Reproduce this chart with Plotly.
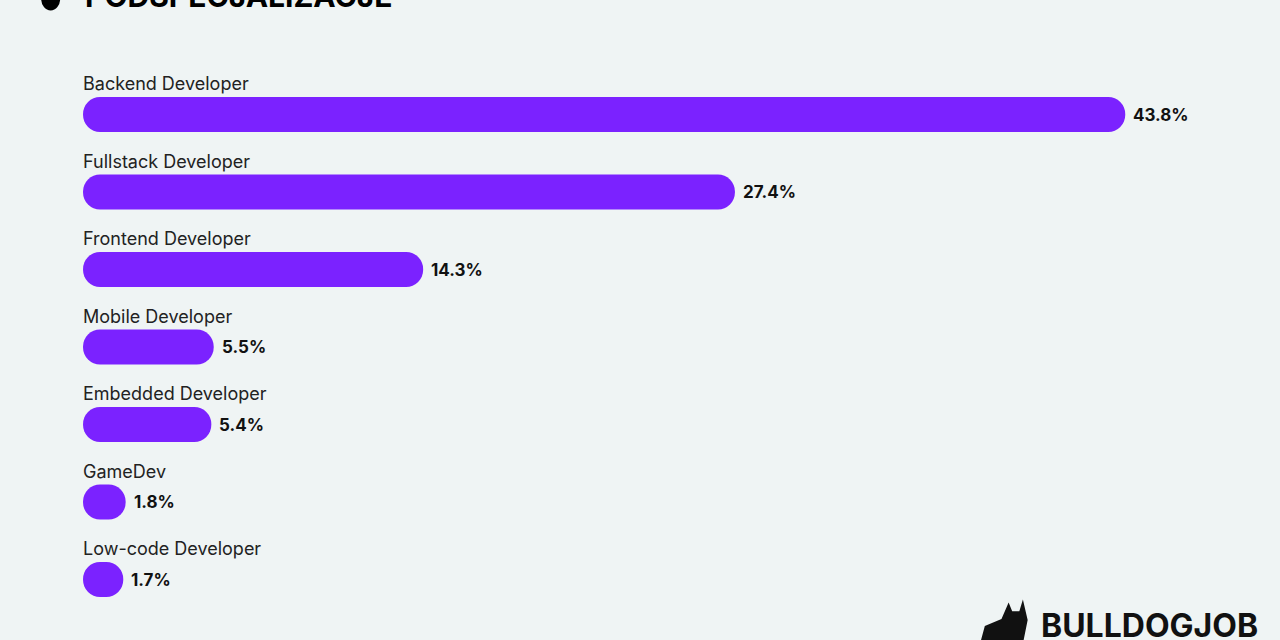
import plotly.graph_objects as go

categories = ["Backend Developer", "Fullstack Developer", "Frontend Developer",
              "Mobile Developer", "Embedded Developer", "GameDev", "Low-code Developer"]
values = [43.8, 27.4, 14.3, 5.5, 5.4, 1.8, 1.7]
value_labels = ["43.8%", "27.4%", "14.3%", "5.5%", "5.4%", "1.8%", "1.7%"]

ypos = list(range(len(categories)))
purple = "#7b22ff"
bg = "#eff4f4"
start = 0.01  # non-zero base so both ends get rounded

fig = go.Figure()
fig.add_trace(go.Bar(
    x=[v - start for v in values], y=ypos, base=start, orientation="h", width=0.45,
    marker=dict(color=purple, cornerradius="50%", line_width=0), hoverinfo="skip",
))

for i, (c, v, lab) in enumerate(zip(categories, values, value_labels)):
    fig.add_annotation(x=0, y=i - 0.4, text=c, showarrow=False, xanchor="left", xshift=-2,
                       yanchor="middle", font=dict(size=18, color="#222", family="Inter"))
    fig.add_annotation(x=v, y=i, text="<b>" + lab + "</b>", showarrow=False, xanchor="left",
                       xshift=6, yanchor="middle", font=dict(size=17, color="#111", family="Inter"))

# title (cut at top like the reference) and logo
fig.add_annotation(xref="paper", yref="paper", x=0.02, y=1.035, xanchor="left", yanchor="bottom",
                   text="<b>PODSPECJALIZACJE</b>", showarrow=False,
                   font=dict(size=30, color="#000", family="Inter"))
fig.add_shape(type="circle", xref="paper", yref="paper", x0=-0.015, x1=0.001,
              y0=1.045, y1=1.085, fillcolor="#000", line_width=0)
fig.add_annotation(xref="paper", yref="paper", x=1.009, y=-0.035, xanchor="right", yanchor="bottom",
                   text="<b>BULLDOGJOB</b>", showarrow=False,
                   font=dict(size=32, color="#111", family="Inter"))
fig.add_shape(type="path", xref="paper", yref="paper",
              path="M 0.774,-0.03 L 0.778,0.0 L 0.792,0.012 L 0.798,0.04 L 0.801,0.025 "
                   "L 0.807,0.025 L 0.810,0.045 L 0.814,0.01 L 0.810,-0.03 Z",
              fillcolor="#111", line_width=0)

fig.update_layout(
    width=1280, height=640,
    margin=dict(l=59, r=31, t=37, b=14),
    paper_bgcolor=bg, plot_bgcolor=bg,
    showlegend=False,
    xaxis=dict(range=[-1, 49], visible=False),
    yaxis=dict(range=[6.6, -1], visible=False),
)

fig.write_html("out.html", config={"displayModeBar": False},
               post_script="document.body.style.margin='0';document.body.style.background='#eff4f4';")
